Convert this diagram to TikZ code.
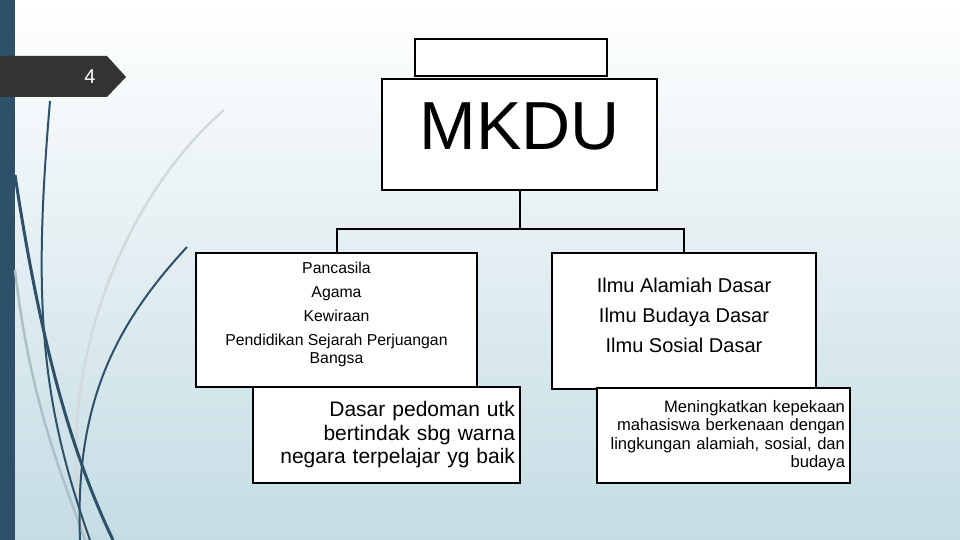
\documentclass[tikz,border=0pt]{standalone}
\usepackage{fontspec}
\setmainfont{Liberation Sans}
\usepackage{tikz}
\definecolor{slidebar}{HTML}{2E5068}
\definecolor{slidebg}{RGB}{196,220,228}
\definecolor{tabgray}{HTML}{333333}
\definecolor{swirllight}{RGB}{210,218,222}
\definecolor{swirlmid}{RGB}{172,192,200}

\begin{document}
\begin{tikzpicture} [
  x=1pt, y=-1pt,
  course/.style={rectangle,draw,line width=2pt,fill=white,inner sep=0pt},
  note/.style={course,align=right,inner xsep=5pt},
  link/.style={line width=2pt},
  swirl/.style={line width=2pt,slidebar}]

\useasboundingbox (0,0) rectangle (960,540);
\shade[top color=white, bottom color=slidebg] (0,0) rectangle (960,540);
\fill[slidebar] (0,0) rectangle (15,540);
\draw[swirllight, line width=2.5pt] (224,110) .. controls (120,200) and (50,380) .. (85,540);
\draw[swirlmid, line width=2.5pt] (15,270) .. controls (30,400) and (60,470) .. (85,540);
\draw[swirl] (50,101) .. controls (33,300) and (40,400) .. (90,540);
\draw[swirl, line width=3pt] (15,175) .. controls (40,340) and (70,450) .. (113,540);
\draw[swirl] (187,247) .. controls (110,330) and (75,410) .. (80,540);
\fill[tabgray] (0,56) -- (107,56) -- (126,77) -- (107,97) -- (0,97) -- cycle;
\node[white, font=\fontsize{20}{24}\selectfont] (slideno) at (90,77) {4};

\node[course, minimum width=192pt, minimum height=37pt] (header) at (511,57.5) {};
\node[course, minimum width=275pt, minimum height=111pt,
  font=\fontsize{68}{68}\selectfont, text height=48pt, text depth=17pt]
  (mkdu) at (519.5,134.5) {MKDU};

\node[course, minimum width=281pt, minimum height=134pt,
  font=\fontsize{15.8}{18}\selectfont] (general) at (336.5,320) {
    \begin{tabular}{c}
      Pancasila\\[6pt]
      Agama\\[6pt]
      Kewiraan\\[6pt]
      Pendidikan Sejarah Perjuangan\\
      Bangsa\\[11pt]
    \end{tabular}
    };
\node[course, minimum width=264pt, minimum height=136pt,
  font=\fontsize{20}{30}\selectfont] (basic) at (684,321) {
    \begin{tabular}{c}
      Ilmu Alamiah Dasar\\
      Ilmu Budaya Dasar\\
      Ilmu Sosial Dasar\\[10pt]
    \end{tabular}
    };

\node[note, text width=257pt, minimum height=96pt,
  font=\fontsize{21}{23.5}\selectfont] (generalnote) at (386.5,435)
  {Dasar pedoman utk\\ bertindak sbg warna\\ negara terpelajar yg baik};
\node[note, text width=243pt, minimum height=95pt,
  font=\fontsize{16.6}{18.5}\selectfont] (basicnote) at (723.5,435.5)
  {Meningkatkan kepekaan\\ mahasiswa berkenaan dengan\\ lingkungan alamiah, sosial, dan\\ budaya};

\coordinate (fork) at ([yshift=-38pt]mkdu.south);
\draw[link] (mkdu.south) -- (fork);
\draw[link] (general.north) |- (fork) -| (basic.north);
\end{tikzpicture}
\end{document}
